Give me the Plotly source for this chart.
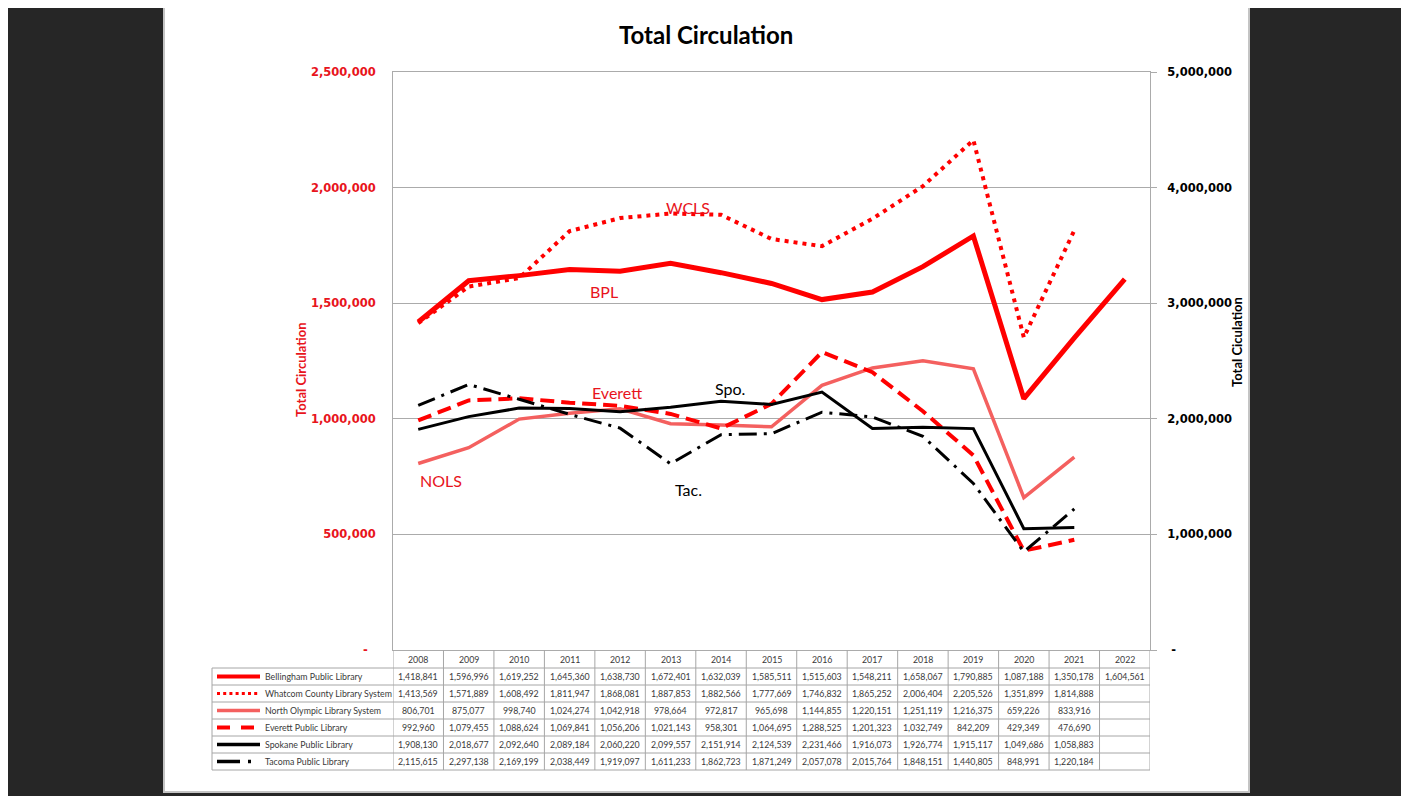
import plotly.graph_objects as go

# page body has an 8px margin: the figure is drawn at an 8px offset
OFF = 8
W, H = 1409 - OFF, 796 - OFF

years = [str(y) for y in range(2008, 2023)]
bpl = [1418841, 1596996, 1619252, 1645360, 1638730, 1672401, 1632039, 1585511,
       1515603, 1548211, 1658067, 1790885, 1087188, 1350178, 1604561]
wcls = [1413569, 1571889, 1608492, 1811947, 1868081, 1887853, 1882566, 1777669,
        1746832, 1865252, 2006404, 2205526, 1351899, 1814888, None]
nols = [806701, 875077, 998740, 1024274, 1042918, 978664, 972817, 965698,
        1144855, 1220151, 1251119, 1216375, 659226, 833916, None]
everett = [992960, 1079455, 1088624, 1069841, 1056206, 1021143, 958301, 1064695,
           1288525, 1201323, 1032749, 842209, 429349, 476690, None]
spokane = [1908130, 2018677, 2092640, 2089184, 2060220, 2099557, 2151914, 2124539,
           2231466, 1916073, 1926774, 1915117, 1049686, 1058883, None]
tacoma = [2115615, 2297138, 2169199, 2038449, 1919097, 1611233, 1862723, 1871249,
          2057078, 2015764, 1848151, 1440805, 848991, 1220184, None]

names = ["Bellingham Public Library", "Whatcom County Library System",
         "North Olympic Library System", "Everett Public Library",
         "Spokane Public Library", "Tacoma Public Library"]
series = [bpl, wcls, nols, everett, spokane, tacoma]
short_labels = ["BPL", "WCLS", "NOLS", "Everett", "Spo.", "Tac."]

left_ticks = [0, 500000, 1000000, 1500000, 2000000, 2500000]
right_ticks = [0, 1000000, 2000000, 3000000, 4000000, 5000000]

RED = "#FF0000"
TRED = "#E8141C"
styles = [
    dict(color=RED, width=5, dash="solid", axis="y"),
    dict(color=RED, width=4, dash="4px,5px", axis="y"),
    dict(color="#F4605F", width=3.5, dash="solid", axis="y"),
    dict(color=RED, width=4, dash="14px,7px", axis="y"),
    dict(color="#000000", width=3, dash="solid", axis="y2"),
    dict(color="#000000", width=3, dash="18px,7px,3px,7px", axis="y2"),
]
key_dash = ["solid", "3px,3.2px", "solid", "13px,11px", "solid", "23px,8px,3px,30px"]
key_width = [4, 3, 3.5, 4, 3.5, 3.5]


def px(x):
    return (x - OFF) / W


def py(y):
    return 1 - (y - OFF) / H


def note(text, x, y, font, xref="paper", **kw):
    d = dict(text=text, xref=xref, yref="paper", x=x, y=y, showarrow=False,
             xanchor="center", yanchor="middle", font=font)
    d.update(kw)
    return d


fig = go.Figure()
for name, vals, st in zip(names, series, styles):
    fig.add_trace(go.Scatter(
        x=years, y=vals, name=name, mode="lines", yaxis=st["axis"],
        line=dict(color=st["color"], width=st["width"], dash=st["dash"]),
        connectgaps=False, showlegend=False, hoverinfo="skip",
    ))

GRID = "#ABABAB"
x0p, x1p = 393, 1150
ytop, ybot = 72, 650

shapes = []
annotations = []

# white panel
shapes.append(dict(type="rect", xref="paper", yref="paper", x0=px(164), x1=px(1249),
                   y0=py(792), y1=py(5), fillcolor="white",
                   line=dict(color="#C4C4C4", width=2), layer="below"))

# title
annotations.append(note("<b>Total Circulation</b>", px(706), py(35),
                        dict(family="Lato", size=24, color="#000000")))
# axis titles
annotations.append(note("<b>Total Circulation</b>", px(301), py(370),
                        dict(family="Lato", size=13, color=TRED), textangle=-90))
annotations.append(note("<b>Total Ciculation</b>", px(1237), py(342),
                        dict(family="Lato", size=13, color="#000000"), textangle=-90))

# series labels in plot
label_pos = [(604, 291, TRED), (688, 207, TRED), (441, 480, TRED),
             (617, 393, TRED), (730, 388, "#000000"), (688, 489, "#000000")]
for lab, (lx, ly, c) in zip(short_labels, label_pos):
    annotations.append(note(lab, px(lx), py(ly), dict(family="Lato", size=16, color=c)))

# data table
TL = "#A6A6A6"
tx_left = 212
row_h = 17
hdr_top, hdr_bot = 651, 668
n_rows = len(names)
rows_bottom = hdr_bot + n_rows * row_h

for k in range(n_rows + 1):
    yy = hdr_bot + k * row_h
    shapes.append(dict(type="line", xref="paper", yref="paper",
                       x0=px(tx_left), x1=px(x1p), y0=py(yy), y1=py(yy),
                       line=dict(color=TL, width=1)))
shapes.append(dict(type="line", xref="paper", yref="paper",
                   x0=px(tx_left), x1=px(tx_left), y0=py(hdr_bot), y1=py(rows_bottom),
                   line=dict(color=TL, width=1)))
for k in range(len(years) + 1):
    shapes.append(dict(type="line", xref="x", yref="paper",
                       x0=k - 0.5, x1=k - 0.5, y0=py(ybot), y1=py(rows_bottom),
                       line=dict(color=TL, width=1)))

TF = dict(family="Lato", size=8.8, color="#3A3A3A")
for i, yr in enumerate(years):
    annotations.append(note(yr, i, py((hdr_top + hdr_bot) / 2), TF, xref="x"))

for r, (name, vals, st) in enumerate(zip(names, series, styles)):
    yc = hdr_bot + r * row_h + row_h / 2
    shapes.append(dict(type="line", xref="paper", yref="paper",
                       x0=px(217), x1=px(260), y0=py(yc), y1=py(yc),
                       line=dict(color=st["color"], width=key_width[r], dash=key_dash[r])))
    annotations.append(note(name, px(263), py(yc), TF, xanchor="left"))
    for i, v in enumerate(vals):
        if v is None:
            continue
        annotations.append(note(f"{v:,}", i, py(yc), TF, xref="x"))

fig.update_layout(
    width=W, height=H, autosize=False,
    margin=dict(l=0, r=0, t=0, b=0, pad=0),
    paper_bgcolor="#262626",
    plot_bgcolor="white",
    shapes=shapes,
    annotations=annotations,
    xaxis=dict(type="category", categoryorder="array", categoryarray=years,
               range=[-0.5, len(years) - 0.5], domain=[px(x0p), px(x1p)],
               showticklabels=False, showgrid=False, zeroline=False, automargin=False,
               showline=True, linecolor=GRID, linewidth=1, mirror=True, ticks=""),
    yaxis=dict(range=[0, 2500000], domain=[py(ybot), py(ytop)], automargin=False,
               tickvals=left_ticks,
               ticktext=[f"{v:,}" if v else "-\u00a0\u00a0" for v in left_ticks],
               tickfont=dict(family="DejaVu Sans", size=11.5, color=TRED, weight="bold"),
               showgrid=True, gridcolor=GRID, gridwidth=1, zeroline=False,
               showline=True, linecolor=GRID, linewidth=1, ticks="",
               ticklabelstandoff=14),
    yaxis2=dict(range=[0, 5000000], overlaying="y", side="right", anchor="x",
                automargin=False,
                tickvals=right_ticks,
                ticktext=[f"{v:,}" if v else "\u00a0-" for v in right_ticks],
                tickfont=dict(family="DejaVu Sans", size=11.5, color="#000000", weight="bold"),
                showgrid=False, zeroline=False,
                showline=True, linecolor=GRID, linewidth=1,
                ticks="outside", ticklen=6, tickcolor=GRID, ticklabelstandoff=8),
)

fig.write_html("out.html")
